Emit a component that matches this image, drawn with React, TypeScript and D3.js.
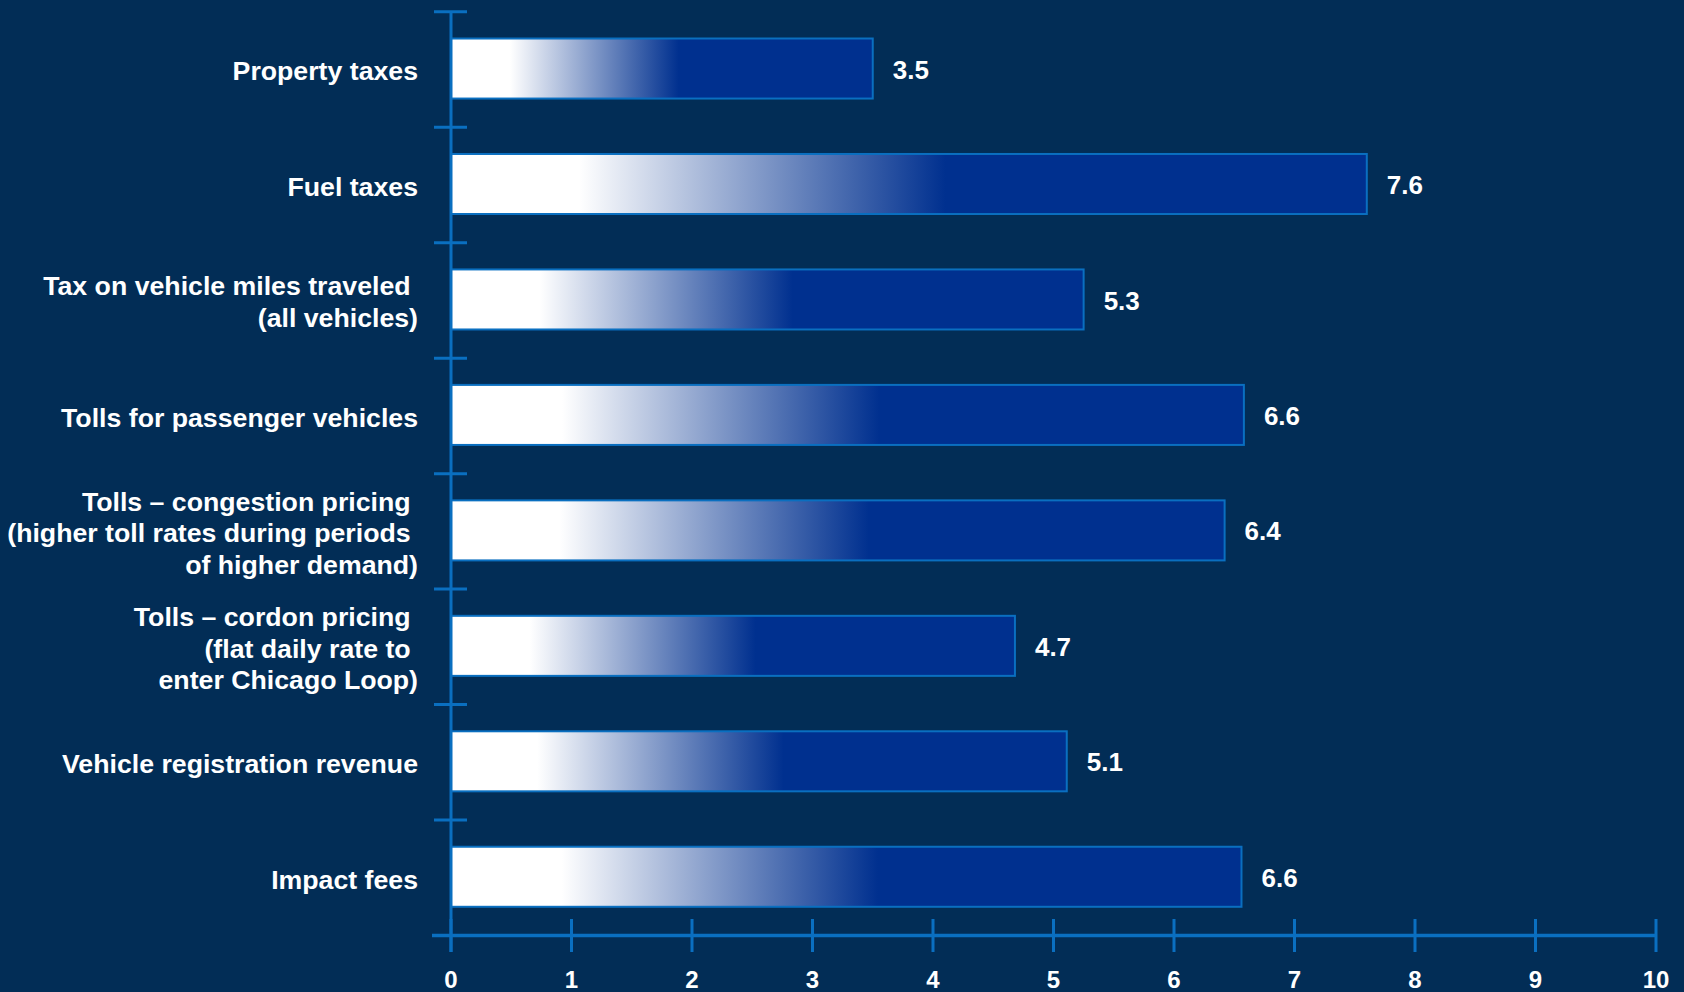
import React from "react";
import * as d3 from "d3";

const categories: string[][] = [
  ["Property taxes"],
  ["Fuel taxes"],
  ["Tax on vehicle miles traveled ", "(all vehicles)"],
  ["Tolls for passenger vehicles"],
  ["Tolls \u2013 congestion pricing ", "(higher toll rates during periods ", "of higher demand)"],
  ["Tolls \u2013 cordon pricing ", "(flat daily rate to ", "enter Chicago Loop)"],
  ["Vehicle registration revenue"],
  ["Impact fees"],
];
const values: number[] = [3.5, 7.6, 5.25, 6.58, 6.42, 4.68, 5.11, 6.56];
const xTicks: number[] = [0, 1, 2, 3, 4, 5, 6, 7, 8, 9, 10];

const W = 1684;
const H = 992;
const BG = "#022d56";
const AXIS = "#0a6fc0";
const BAR = "#00308f";
const FONT = "'Liberation Sans', Arial, sans-serif";

export default function App() {
  const x = d3.scaleLinear().domain([0, 10]).range([451, 1656]);
  const y = d3
    .scaleBand<number>()
    .domain(values.map((_, i) => i))
    .range([11.8, 935.5])
    .paddingInner(0.48)
    .paddingOuter(0.24);
  const bandStep = y.step();
  const catTicks = d3.range(values.length + 1).map((i) => 11.8 + i * bandStep);

  return (
    <svg
      width={W}
      height={H}
      style={{ position: "absolute", left: 0, top: 0, display: "block" }}
    >
      <defs>
        <linearGradient id="barGrad" x1="0" x2="1" y1="0" y2="0">
          <stop offset="0" stopColor="#ffffff" />
          <stop offset="0.14" stopColor="#ffffff" />
          <stop offset="0.54" stopColor={BAR} />
          <stop offset="1" stopColor={BAR} />
        </linearGradient>
      </defs>
      <rect x={0} y={0} width={W} height={H} fill={BG} />

      {/* bars */}
      {values.map((v, i) => {
        const by = (y(i) as number) - 1;
        const bh = y.bandwidth();
        return (
          <g key={i}>
            <rect
              x={x(0)}
              y={by}
              width={x(v) - x(0)}
              height={bh}
              fill="url(#barGrad)"
              stroke={AXIS}
              strokeWidth={2}
            />
            <text
              x={x(v) + 20}
              y={by + bh / 2 + 1}
              dy="0.35em"
              fill="#ffffff"
              fontFamily={FONT}
              fontWeight="bold"
              fontSize={26}
            >
              {v.toFixed(1)}
            </text>
          </g>
        );
      })}

      {/* y axis */}
      <line x1={x(0)} x2={x(0)} y1={catTicks[0]} y2={952} stroke={AXIS} strokeWidth={3} />
      {catTicks.slice(0, -1).map((t, i) => (
        <line key={i} x1={434} x2={467} y1={t} y2={t} stroke={AXIS} strokeWidth={3} />
      ))}

      {/* x axis */}
      <line x1={432} x2={x(10)} y1={935.5} y2={935.5} stroke={AXIS} strokeWidth={3.5} />
      {xTicks.map((t) => (
        <g key={t}>
          <line x1={x(t)} x2={x(t)} y1={919} y2={952} stroke={AXIS} strokeWidth={3} />
          <text
            x={x(t)}
            y={980}
            dy="0.35em"
            textAnchor="middle"
            fill="#ffffff"
            fontFamily={FONT}
            fontWeight="bold"
            fontSize={24}
          >
            {t}
          </text>
        </g>
      ))}

      {/* category labels */}
      {categories.map((lines, i) => {
        const cy = (y(i) as number) - 1 + y.bandwidth() / 2 + 2.5;
        const lh = 31.7;
        const start = cy - ((lines.length - 1) * lh) / 2;
        return (
          <text
            key={i}
            textAnchor="end"
            fill="#ffffff"
            fontFamily={FONT}
            fontWeight="bold"
            fontSize={26.7}
            style={{ whiteSpace: "pre" }}
          >
            {lines.map((l, j) => (
              <tspan key={j} x={418} y={start + j * lh} dy="0.35em">
                {l}
              </tspan>
            ))}
          </text>
        );
      })}
    </svg>
  );
}
